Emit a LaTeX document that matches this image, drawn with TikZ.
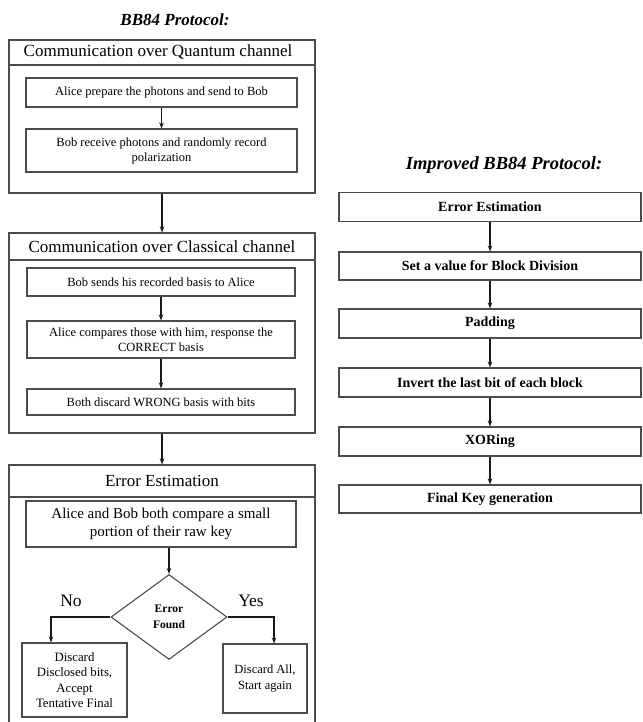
\documentclass[tikz,border=0pt]{standalone}
\usepackage{fontspec}
\setmainfont{Liberation Serif}
\usetikzlibrary{arrows.meta,shapes.geometric}
\begin{document}
\begin{tikzpicture}[x=1pt,y=-1pt,
  box/.style={draw=black!70,line width=1.1pt,inner sep=0pt,align=center},
  obox/.style={box},
  ibox/.style={box,font=\fontsize{12.5}{15}\selectfont},
  ebox/.style={box,font=\fontsize{15}{18}\selectfont},
  rbox/.style={box,font=\bfseries\fontsize{14}{17}\selectfont,minimum width=302pt,minimum height=29pt},
  hdr/.style={font=\fontsize{17}{20}\selectfont,inner sep=0pt},
  ttl/.style={font=\bfseries\itshape\fontsize{17}{20}\selectfont,inner sep=0pt},
  arr/.style={draw=black!90,line width=1.2pt,-{Stealth[length=6pt,width=4.5pt]}},
  lbl/.style={font=\fontsize{17.5}{20}\selectfont,inner sep=0pt}]
\useasboundingbox (0,0) rectangle (642,722);
% titles
\node[ttl] (t1) at (175,20) {BB84 Protocol:};
\node[ttl,font=\bfseries\itshape\fontsize{18.5}{21}\selectfont] (t2) at (504,165) {Improved BB84 Protocol:};
% outer box 1
\node[obox,minimum width=306pt,minimum height=153pt] (o1) at (162,116.5) {};
\draw[draw=black!70,line width=1.1pt] (9,65) -- (315,65);
\node[hdr] (h1) at (158,52) {Communication over Quantum channel};
\node[ibox,minimum width=271pt,minimum height=29pt] (i1) at (161.5,92.5) {Alice prepare the photons and send to Bob};
\node[ibox,minimum width=271pt,minimum height=43pt] (i2) at (161.5,150.5) {Bob receive photons and randomly record\\polarization};
\draw[arr] (i1) -- (i2);
% outer box 2
\node[obox,minimum width=306pt,minimum height=200pt] (o2) at (162,333) {};
\draw[draw=black!70,line width=1.1pt] (9,260) -- (315,260);
\node[hdr] (h2) at (162,247) {Communication over Classical channel};
\node[ibox,minimum width=268pt,minimum height=28pt] (i3) at (161,282) {Bob sends his recorded basis to Alice};
\node[ibox,minimum width=268pt,minimum height=37pt] (i4) at (161,339.5) {Alice compares those with him, response the\\CORRECT basis};
\node[ibox,minimum width=268pt,minimum height=26pt] (i5) at (161,402) {Both discard WRONG basis with bits};
\draw[arr] (i3) -- (i4);
\draw[arr] (i4) -- (i5);
\draw[arr] (o1) -- (o2);
% outer box 3
\node[obox,minimum width=306pt,minimum height=275pt] (o3) at (162,602.5) {};
\draw[draw=black!70,line width=1.1pt] (9,497) -- (315,497);
\node[hdr] (h3) at (162,481) {Error Estimation};
\draw[arr] (o2) -- (o3);
\node[ebox,minimum width=270pt,minimum height=46pt] (i6) at (161,524) {Alice and Bob both compare a small\\portion of their raw key};
\node[diamond,draw=black!70,line width=1.1pt,inner sep=0pt,aspect=1.36,minimum width=116pt,minimum height=85pt,
  font=\bfseries\fontsize{11.5}{16}\selectfont,align=center] (dia) at (169,617) {Error\\Found};
\draw[arr] (i6.south -| dia.north) -- (dia.north);
\node[box,font=\fontsize{12.8}{15.5}\selectfont,minimum width=105pt,minimum height=74pt] (lb) at (74.5,680) {Discard\\Disclosed bits,\\Accept\\Tentative Final};
\node[box,font=\fontsize{12.5}{15.5}\selectfont,minimum width=84pt,minimum height=69pt] (rb) at (265,678.5) {Discard All,\\Start again};
\draw[arr] (dia.west) -| ([xshift=-23.5pt]lb.north);
\draw[arr] (dia.east) -| ([xshift=9pt]rb.north);
\node[lbl] (no) at (71,601) {No};
\node[lbl] (yes) at (251,601) {Yes};
% right column
\node[rbox] (r1) at (490,207) {Error Estimation};
\node[rbox,minimum height=28pt] (r2) at (490,266) {Set a value for Block Division};
\node[rbox] (r3) at (490,323.5) {Padding};
\node[rbox] (r4) at (490,382.5) {Invert the last bit of each block};
\node[rbox] (r5) at (490,441.5) {XORing};
\node[rbox,minimum height=28pt] (r6) at (490,499) {Final Key generation};
\draw[arr] (r1) -- (r2);
\draw[arr] (r2) -- (r3);
\draw[arr] (r3) -- (r4);
\draw[arr] (r4) -- (r5);
\draw[arr] (r5) -- (r6);
\end{tikzpicture}
\end{document}
